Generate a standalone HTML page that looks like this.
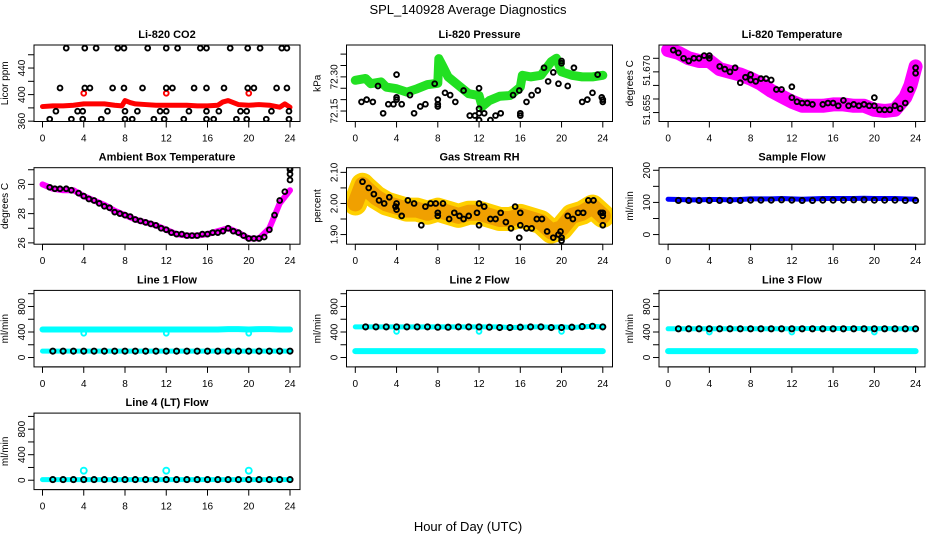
<!DOCTYPE html>
<html><head><meta charset="utf-8"><style>
html,body{margin:0;padding:0;background:#fff}
svg{display:block}
text{font-family:"Liberation Sans",sans-serif}
</style></head><body>
<svg id="chart" width="936" height="540" viewBox="0 0 936 540" xmlns="http://www.w3.org/2000/svg">
<text x="468" y="14" text-anchor="middle" font-size="13">SPL_140928  Average Diagnostics</text>
<text x="468" y="531" text-anchor="middle" font-size="13">Hour of Day (UTC)</text>
</svg>
<script>
// ---------- data ----------
const xTicks = [0,4,8,12,16,20,24];
// CO2
const co2RedHours = [0,1,2,3,4,5,6,7,7.7,8,8.5,9,10,11,12,13,14,15,16,17,17.5,18,18.5,19,20,21,22,23,23.5,24];
const co2RedVals  = [382,383,383,384,386,386,386,384,383,391,388,386,385,384,384,384,384,383,383,384,389,391,388,385,384,385,384,381,386,381];
const co2DotHours = [4,12,20];
const co2DotVals  = [402,402,402];
const co2BlkHours = [2.3,4.1,5.2,7.3,7.9,10.2,12.0,13.1,15.3,15.9,18.2,19.9,21.1,23.2,23.7, 1.7,4.1,4.6,6.8,7.9,9.7,12.0,12.6,14.7,15.9,17.6,19.9,20.5,22.7,23.7, 1.3,3.4,3.9,6.3,8.0,9.2,11.4,12.0,14.2,15.9,17.1,19.2,19.8,22.2,23.9, 0.7,2.8,3.9,5.7,8.0,8.7,10.8,11.8,13.7,15.9,16.6,18.8,19.8,21.7,23.9];
const co2BlkVals  = [470,470,470,470,470,470,470,470,470,470,470,470,470,470,470, 410,410,410,410,410,410,410,410,410,410,410,410,410,410,410, 375,375,375,375,375,375,375,375,375,375,375,375,375,375,375, 363,363,363,363,363,363,363,363,363,363,363,363,363,363,363];
// Pressure
const presHours = [0,1,1.5,2.5,3,4,5,6,7,8,8.1,8.5,9,10,11,12,12.3,13,14,15,16,16.2,17,18,19,19.5,20,21,22,23,24];
const presVals  = [72.285,72.293,72.27,72.278,72.255,72.248,72.233,72.248,72.266,72.272,72.38,72.345,72.30,72.263,72.226,72.218,72.17,72.196,72.215,72.218,72.255,72.307,72.30,72.307,72.367,72.382,72.322,72.307,72.30,72.30,72.307];
const presBlkHours = [0.6,1.1,1.7,2.2,2.7,3.2,3.7,4,4,4,4.5,5.3,5.7,6.3,6.8,7.7,8,8,8,8.7,9.2,9.7,10.5,11.1,11.6,12,12,12,12,12.5,13.1,13.6,14.1,15.3,15.9,16,16,16.6,17.1,17.7,18.3,18.7,19.2,19.7,20,20,20.6,21.2,22,22.5,23,23.5,23.9,24,24];
const presBlkVals  = [72.19,72.20,72.19,72.26,72.14,72.18,72.18,72.31,72.21,72.20,72.18,72.22,72.14,72.17,72.18,72.27,72.20,72.18,72.17,72.23,72.22,72.19,72.24,72.13,72.13,72.11,72.14,72.16,72.25,72.14,72.11,72.13,72.14,72.22,72.24,72.14,72.13,72.19,72.22,72.24,72.34,72.28,72.32,72.27,72.36,72.37,72.26,72.34,72.19,72.20,72.23,72.31,72.21,72.20,72.19];
// Li-820 temperature
const ltHours = [0,1,2,3,4,5,6,7,8,9,10,11,12,13,14,15,16,17,18,19,20,21,22,23,23.5,24];
const ltVals  = [51.678,51.677,51.675,51.674,51.674,51.671,51.670,51.669,51.6675,51.6656,51.663,51.661,51.659,51.6575,51.6575,51.6575,51.658,51.658,51.6575,51.6575,51.656,51.6556,51.656,51.6606,51.665,51.672];
const ltBlkHours = [0.5,1,1.5,2,2.5,3,3.5,4,4,5,5.5,6,6.5,7,7.5,8,8,8.5,9,9.5,10,10.5,11,12,12,12.5,13,13.5,14,15,15.5,16,16.5,17,17.5,18,18.5,19,19.5,20,20,20.5,21,21.5,22,22.5,23,23.5,24,24];
const ltBlkVals  = [51.678,51.677,51.675,51.674,51.675,51.675,51.676,51.676,51.675,51.672,51.671,51.670,51.6715,51.666,51.668,51.669,51.667,51.6665,51.6675,51.6675,51.667,51.6635,51.6635,51.6645,51.6605,51.659,51.6585,51.6585,51.658,51.658,51.6585,51.6585,51.6575,51.6595,51.6575,51.658,51.6575,51.658,51.6575,51.6605,51.6575,51.656,51.656,51.656,51.6575,51.6565,51.6585,51.6635,51.6715,51.6695];
// Ambient box temperature
const ambHours = [0,1,2,3,4,5,6,7,8,9,10,11,12,13,14,15,16,17,18,19,20,21,22,23,24];
const ambVals  = [30.0,29.7,29.6,29.6,29.2,28.9,28.6,28.2,27.9,27.6,27.4,27.2,26.9,26.6,26.5,26.5,26.6,26.8,27.0,26.7,26.3,26.3,27.0,28.7,29.6];
const ambBlkHours = [0.7,1.2,1.7,2.3,2.8,3.5,4,4.5,5,5.5,6,6.5,7,7.5,8,8.5,9,9.5,10,10.5,11,11.5,12,12.5,13,13.5,14,14.5,15,15.5,16,16.5,17,17.5,18,18.5,19,19.5,20,20.5,21,21.5,22,22.5,23,23.5,24,24,24,24];
const ambBlkVals  = [29.8,29.7,29.7,29.7,29.6,29.4,29.2,29.0,28.9,28.7,28.5,28.4,28.1,28.0,27.9,27.8,27.6,27.5,27.4,27.3,27.2,27.0,26.9,26.7,26.6,26.6,26.5,26.5,26.5,26.6,26.6,26.7,26.7,26.8,27.0,26.8,26.7,26.5,26.3,26.3,26.3,26.4,26.9,27.9,28.9,29.5,30.3,30.7,31.0,31.1];
// Gas stream RH
const rhHours = [0,0.7,1,2,3,4,5,6,7,8,9,10,11,12,13,14,15,16,17,18,19,20,21,22,23,24];
const rhVals  = [2.00,2.06,2.05,2.02,2.00,1.99,1.98,1.98,1.97,1.98,1.97,1.96,1.97,1.97,1.96,1.95,1.95,1.96,1.95,1.94,1.91,1.92,1.96,1.97,1.99,1.96];
const rhBlkHours = [0.7,1.3,1.8,2.3,2.8,3.3,3.9,4,4,4.5,5.1,5.7,6.4,6.8,7.3,7.8,8,8,8.5,9.1,9.6,10.1,10.5,11,11.8,12,12,12.5,13.1,13.6,14.1,14.6,15.1,15.5,15.9,16,16,16.6,17.1,17.6,18.1,18.6,19.2,19.7,19.9,20,20,20.6,21.1,21.6,22.1,22.6,23.1,23.8,24,24,24];
const rhBlkVals  = [2.07,2.05,2.03,2.01,2.00,2.02,1.99,1.98,2.00,1.96,2.01,2.00,1.93,1.99,2.00,2.00,1.96,1.97,2.00,1.95,1.97,1.96,1.95,1.96,1.97,1.93,2.00,1.99,1.95,1.95,1.97,1.94,1.92,1.99,1.89,1.97,1.93,1.92,1.92,1.95,1.95,1.91,1.89,1.90,1.91,1.88,1.89,1.96,1.95,1.97,1.97,2.01,2.01,1.97,1.96,1.93,1.97];
// Sample flow
const hourly = [0,1,2,3,4,5,6,7,8,9,10,11,12,13,14,15,16,17,18,19,20,21,22,23,24];
const sfBlue = [110,109,108,108,109,109,108,109,111,111,111,112,111,110,111,112,112,112,112,113,112,112,112,111,110];
const sfBlk  = [106,106,106,106,106,106,106,106,107,107,107,108,107,106,106,107,107,107,108,108,107,107,107,106,106];
// Line flows
const l1Hi  = [440,440,440,440,440,440,440,440,440,440,440,440,440,440,440,440,440,440,445,445,440,445,445,440,440];
const l1Lo  = [100,100,100,100,100,100,100,100,100,100,100,100,100,100,100,100,100,100,100,100,100,100,100,100,100];
const l1Blk = [100,100,100,100,100,100,100,100,100,100,100,100,100,100,100,100,100,100,100,100,100,100,100,100,100];
const l2Hi  = [480,480,480,480,480,480,480,480,480,480,480,480,480,480,480,470,475,480,480,475,480,470,480,490,480];
const l2Lo  = [100,100,100,100,100,100,100,100,100,100,100,100,100,100,100,100,100,100,100,100,100,100,100,100,100];
const l2Blk = [480,480,480,480,480,480,480,480,475,475,480,480,480,475,470,470,475,480,480,470,470,475,485,490,480];
const l3Hi  = [450,450,450,450,450,450,450,450,450,450,450,450,450,455,455,455,455,455,455,455,450,455,450,450,450];
const l3Lo  = [100,100,100,100,100,100,100,100,100,100,100,100,100,100,100,100,100,100,100,100,100,100,100,100,100];
const l3Blk = [450,450,450,450,450,450,450,450,450,450,450,450,450,450,450,450,450,450,450,450,450,450,450,450,450];
const l4Lo  = [10,10,10,10,10,10,10,10,10,10,10,10,10,10,10,10,10,10,10,10,10,10,10,10,10];
const l4Blk = [10,10,10,10,10,10,10,10,10,10,10,10,10,10,10,10,10,10,10,10,10,10,10,10,10];
const spikeHours = [4,12,20];
const l1Dip = [380,380,380];
const l2Dip = [410,410,410];
const l3Dip = [400,400,400];
const l4Spike = [150,150,150];

// ---------- drawing ----------
const svg = document.getElementById('chart');
const NS = 'http://www.w3.org/2000/svg';
function mk(tag, attrs, parent){const e=document.createElementNS(NS,tag);for(const k in attrs)e.setAttribute(k,attrs[k]);(parent||svg).appendChild(e);return e;}

function panel(name, col, row, title, ylab, ymin, ymax, yticks, ylabels){
  const g = mk('g',{});
  
  
  const L = 34 + 312.5*col, R = 300 + 312.5*col;
  const T = 45 + 122.7*row, B = T + 76.5;
  const x0 = 42.5 + 312.8*col, xs = 247.5/24;
  const X = h => x0 + h*xs;
  const Y = v => B - (v - ymin)/(ymax - ymin)*(B - T);
  const t = mk('text',{x:(L+R)/2,y:T-7,'text-anchor':'middle','font-size':'11','font-weight':'bold'},g);
  t.textContent = title;
  
  
  const yl = mk('text',{x:0,y:0,'text-anchor':'middle','font-size':'10',transform:`translate(${L-26},${(T+B)/2}) rotate(-90)`},g);
  yl.textContent = ylab;
  
  
  xTicks.forEach(h=>{
    mk('line',{x1:X(h),x2:X(h),y1:B,y2:B+6,stroke:'#000','stroke-width':1},g);
    const tx = mk('text',{x:X(h),y:B+20,'text-anchor':'middle','font-size':'10'},g);
    tx.textContent = h;
    
    
  });
  mk('line',{x1:X(0),x2:X(24),y1:B,y2:B,stroke:'#000'},g);
  yticks.forEach(v=>{ mk('line',{x1:L-6,x2:L,y1:Y(v),y2:Y(v),stroke:'#000'},g); });
  mk('line',{x1:L,x2:L,y1:Y(yticks[0]),y2:Y(yticks[yticks.length-1]),stroke:'#000'},g);
  ylabels.forEach(([v,s])=>{
    const ty = mk('text',{x:0,y:0,'text-anchor':'middle','font-size':'10',transform:`translate(${L-9},${Y(v)}) rotate(-90)`},g);
    ty.textContent = s;
    
    
  });
  const clipId = 'c'+name;
  const cp = mk('clipPath',{id:clipId},g);
  mk('rect',{x:L,y:T,width:R-L,height:B-T},cp);
  const plot = mk('g',{'clip-path':`url(#${clipId})`},g);
  mk('rect',{x:L,y:T,width:R-L,height:B-T,fill:'none',stroke:'#000','stroke-width':1},g);
  return {
    band(hours, vals, color, w, dname, dash){
      const a = {points:hours.map((h,i)=>X(h)+','+Y(vals[i])).join(' '),fill:'none',stroke:color,'stroke-width':w,'stroke-linejoin':'round','stroke-linecap':'round'};
      if(dash) a['stroke-dasharray']=dash;
      const p = mk('polyline',a,plot);
      
      
    },
    pts(hours, vals, color, dname, r){
      hours.forEach((h,i)=>{
        const c = mk('circle',{cx:X(h),cy:Y(vals[i]),r:r||2.4,fill:'none',stroke:color,'stroke-width':1.9},plot);
        
        
      });
    }
  };
}

let p;
p = panel('co2-panel',0,0,'Li-820 CO2','Licor ppm',359.5,474.7,[360,380,400,420,440,460],[[360,'360'],[400,'400'],[440,'440']]);
p.band(co2RedHours,co2RedVals,'#ff0000',5,'co2-red-series');
p.pts(co2DotHours,co2DotVals,'#ff0000','co2-red-point');
p.pts(co2BlkHours,co2BlkVals,'#000','co2-black-point');

p = panel('pressure-panel',1,0,'Li-820 Pressure','kPa',72.104,72.440,[72.15,72.20,72.25,72.30,72.35,72.40],[[72.15,'72.15'],[72.30,'72.30']]);
p.band(presHours,presVals,'#22e022',9,'pressure-green-series');
p.pts(presBlkHours,presBlkVals,'#000','pressure-black-point');

p = panel('li820-temp-panel',2,0,'Li-820 Temperature','degrees C',51.6517,51.6799,[51.655,51.660,51.665,51.670,51.675],[[51.656,'51.655'],[51.6705,'51.670']]);
p.band(ltHours,ltVals,'#ff00ff',14,'li820-temp-magenta-series');
p.pts(ltBlkHours,ltBlkVals,'#000','li820-temp-black-point');

p = panel('ambient-temp-panel',0,1,'Ambient Box Temperature','degrees C',25.91,31.14,[26,27,28,29,30,31],[[26,'26'],[28,'28'],[30,'30']]);
p.band(ambHours,ambVals,'#ff00ff',6,'ambient-magenta-series');
p.pts(ambBlkHours,ambBlkVals,'#000','ambient-black-point');

p = panel('rh-panel',1,1,'Gas Stream RH','percent',1.869,2.115,[1.90,1.95,2.00,2.05,2.10],[[1.90,'1.90'],[2.00,'2.00'],[2.10,'2.10']]);
p.band(rhHours,rhVals,'#ffd000',24,'rh-yellow-series');
p.band(rhHours,rhVals,'#f0a000',16,'rh-orange-series');
p.pts(rhBlkHours,rhBlkVals,'#000','rh-black-point');

p = panel('sample-flow-panel',2,1,'Sample Flow','ml/min',-30,208,[0,50,100,150,200],[[0,'0'],[100,'100'],[200,'200']]);
p.band(hourly,sfBlue,'#0000ff',5,'sample-flow-blue-series');
p.pts(hourly.slice(1),sfBlk.slice(1),'#000','sample-flow-black-point',2.6);

const flowTicks=[0,200,400,600,800,1000], flowLabels=[[0,'0'],[400,'400'],[800,'800']];
p = panel('line1-flow-panel',0,2,'Line 1 Flow','ml/min',-147,1052,flowTicks,flowLabels);
p.band(hourly,l1Hi,'#00ffff',6,'line1-high-series');
p.band(hourly,l1Lo,'#00ffff',5,'line1-low-series');
p.pts(spikeHours,l1Dip,'#00ffff','line1-dip-point');
p.pts(hourly.slice(1),l1Blk.slice(1),'#000','line1-black-point',2.6);

p = panel('line2-flow-panel',1,2,'Line 2 Flow','ml/min',-147,1052,flowTicks,flowLabels);
p.band(hourly,l2Hi,'#00ffff',5,'line2-high-series');
p.band(hourly,l2Lo,'#00ffff',6,'line2-low-series');
p.pts(spikeHours,l2Dip,'#00ffff','line2-dip-point');
p.pts(hourly.slice(1),l2Blk.slice(1),'#000','line2-black-point',2.6);

p = panel('line3-flow-panel',2,2,'Line 3 Flow','ml/min',-147,1052,flowTicks,flowLabels);
p.band(hourly,l3Hi,'#00ffff',5,'line3-high-series');
p.band(hourly,l3Lo,'#00ffff',6,'line3-low-series');
p.pts(spikeHours,l3Dip,'#00ffff','line3-dip-point');
p.pts(hourly.slice(1),l3Blk.slice(1),'#000','line3-black-point',2.6);

p = panel('line4-flow-panel',0,3,'Line 4 (LT) Flow','ml/min',-147,1052,flowTicks,flowLabels);
p.band(hourly,l4Lo,'#00ffff',5,'line4-series');
p.pts(spikeHours,l4Spike,'#00ffff','line4-spike-point',3);
p.pts(hourly.slice(1),l4Blk.slice(1),'#000','line4-black-point',2.6);
</script>
</body></html>
